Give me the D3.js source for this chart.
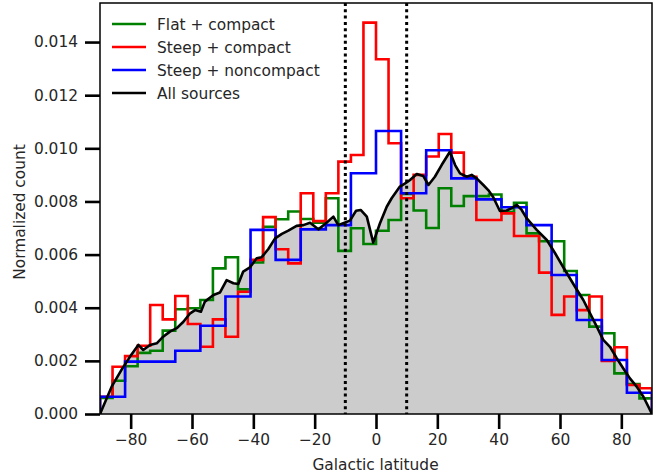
<!DOCTYPE html>
<html>
<head>
<meta charset="utf-8">
<script src="https://cdn.jsdelivr.net/npm/d3@7/dist/d3.min.js"></script>
<style>
  html, body { margin: 0; padding: 0; background: #fff; }
  svg { display: block; }
  text { font-family: "DejaVu Sans", sans-serif; fill: #262626; }
</style>
</head>
<body>
<svg id="chart" width="661" height="476"></svg>
<script>
// ---- Data ----
const latRange = [-90, 90];
const nBinsFine = 44;   // Flat + compact, Steep + compact
const nBinsWide = 22;   // Steep + noncompact

const flatCompact = [
  0.0006, 0.00125, 0.0018, 0.0023, 0.00238, 0.00314, 0.00394, 0.00398, 0.00429, 0.00548,
  0.0059, 0.00469, 0.0057, 0.00705, 0.00733, 0.00762, 0.00734, 0.0072, 0.00812, 0.00614,
  0.00699, 0.0064, 0.0069, 0.0073, 0.00828, 0.00766, 0.0070, 0.0085, 0.00783, 0.0082,
  0.0082, 0.00826, 0.0076, 0.00795, 0.0068, 0.0065, 0.0065, 0.00538, 0.00448, 0.00329,
  0.00304, 0.00153, 0.00113, 0.00059
];

const steepCompact = [
  0.00065, 0.00178, 0.00218, 0.00257, 0.0041, 0.00356, 0.00444, 0.00339, 0.00253, 0.00356,
  0.00291, 0.0046, 0.0058, 0.00741, 0.0062, 0.00567, 0.00831, 0.00726, 0.00831, 0.0095,
  0.00975, 0.01473, 0.01335, 0.01019, 0.00812, 0.009, 0.00969, 0.01054, 0.00984, 0.00893,
  0.0073, 0.0073, 0.00755, 0.0067, 0.0067, 0.00532, 0.00373, 0.00442, 0.00391, 0.00442,
  0.0020, 0.00251, 0.00109, 0.00097
];

const steepNoncompact = [
  0.00065, 0.00197, 0.00197, 0.00238, 0.00332, 0.00442, 0.00693, 0.0058, 0.00695, 0.00711,
  0.00906, 0.01065, 0.00831, 0.00993, 0.00887, 0.00808, 0.00778, 0.00711, 0.00523, 0.00354,
  0.00203, 0.0008
];

const allLat = [
  -90, -86.2, -82.9, -80.2, -77.5, -75.9, -73.7, -71.5, -69.4, -67.2, -65.0, -62.8, -60.6, -59.0,
  -57.1, -55.8, -53.0, -50.9, -48.7, -46.5, -44.9, -43.3, -41.1, -38.9, -37.3, -35.1, -32.9,
  -30.7, -28.6, -25.9, -23.7, -21.5, -18.8, -16.6, -13.9, -12.3, -10.7, -8.5, -6.5, -5.0, -3.0,
  -0.9, 1.3, 3.5, 5.1, 7.8, 9.5, 11.1, 13.3, 15.4, 17.1, 19.2, 21.4, 24.1, 25.8, 27.4, 29.6,
  31.2, 32.8, 35.0, 36.6, 38.2, 40.4, 42.6, 44.2, 45.9, 47.5, 49.1, 52.4, 55.7, 58.4, 61.6,
  64.9, 67.6, 69.8, 72.0, 74.1, 76.3, 78.5, 80.6, 82.8, 85.0, 87.2, 90
];
const allValues = [
  0, 0.00103, 0.00168, 0.00216, 0.0026, 0.00241, 0.0026, 0.00266, 0.00291, 0.0031, 0.00323,
  0.00347, 0.00379, 0.00391, 0.00385, 0.00423, 0.00448, 0.00457, 0.00504, 0.00492, 0.00489,
  0.00536, 0.00552, 0.00586, 0.0059, 0.00621, 0.00661, 0.00678, 0.0069, 0.00708, 0.00711,
  0.0072, 0.00695, 0.00715, 0.00743, 0.00711, 0.00718, 0.00728, 0.00765, 0.00768, 0.00743,
  0.00645, 0.00718, 0.0078, 0.00812, 0.00856, 0.00868, 0.00881, 0.00903, 0.00896, 0.00862,
  0.00893, 0.00937, 0.00987, 0.00937, 0.00906, 0.00893, 0.009, 0.00887, 0.00862, 0.00843,
  0.00817, 0.00764, 0.00766, 0.00774, 0.00787, 0.00768, 0.00737, 0.00693, 0.00655, 0.00605,
  0.00542, 0.00479, 0.00429, 0.00379, 0.00329, 0.00279, 0.00253, 0.0021, 0.00172, 0.00134,
  0.00103, 0.00065, 0
];

const xTicks = [-80, -60, -40, -20, 0, 20, 40, 60, 80];
const yTicks = [0, 0.002, 0.004, 0.006, 0.008, 0.010, 0.012, 0.014];
const yMax = 0.01547;
const cutLines = [-10, 10];

const seriesNames = ["Flat + compact", "Steep + compact", "Steep + noncompact", "All sources"];
const seriesColors = ["#008000", "#ff0000", "#0000ff", "#000000"];

// ---- Layout ----
const plot = { left: 100, right: 652, top: 3, bottom: 414 };
const FS = 15.4;

const svg = d3.select("#chart");
const x = d3.scaleLinear().domain(latRange).range([plot.left, plot.right]);
const y = d3.scaleLinear().domain([0, yMax]).range([plot.bottom, plot.top]);

svg.append("defs").append("clipPath").attr("id", "clip")
  .append("rect")
  .attr("x", plot.left).attr("y", plot.top)
  .attr("width", plot.right - plot.left).attr("height", plot.bottom - plot.top);

const g = svg.append("g").attr("clip-path", "url(#clip)");

// step outline like matplotlib histtype='step'
function stepPoints(values) {
  const n = values.length;
  const w = (latRange[1] - latRange[0]) / n;
  const pts = [[latRange[0], 0]];
  values.forEach((v, i) => {
    pts.push([latRange[0] + i * w, v]);
    pts.push([latRange[0] + (i + 1) * w, v]);
  });
  pts.push([latRange[1], 0]);
  return pts;
}

const line = d3.line().x(d => x(d[0])).y(d => y(d[1]));

// gray fill under all sources
const allPts = allLat.map((l, i) => [l, allValues[i]]);
g.append("path")
  .datum(allPts)
  .attr("d", d3.area().x(d => x(d[0])).y0(y(0)).y1(d => y(d[1])))
  .attr("fill", "#cccccc");

const hists = [flatCompact, steepCompact, steepNoncompact];
hists.forEach((vals, i) => {
  g.append("path")
    .datum(stepPoints(vals))
    .attr("d", line)
    .attr("fill", "none")
    .attr("stroke", seriesColors[i])
    .attr("stroke-width", 2.6)
    .attr("stroke-linejoin", "miter");
});

g.append("path")
  .datum(allPts)
  .attr("d", line)
  .attr("fill", "none")
  .attr("stroke", seriesColors[3])
  .attr("stroke-width", 2.6)
  .attr("stroke-linejoin", "round");

// dotted vertical lines
cutLines.forEach(v => {
  g.append("line")
    .attr("x1", x(v)).attr("x2", x(v))
    .attr("y1", plot.top).attr("y2", plot.bottom)
    .attr("stroke", "#000").attr("stroke-width", 3)
    .attr("stroke-dasharray", "3,3.3");
});

// frame
svg.append("rect")
  .attr("x", plot.left).attr("y", plot.top)
  .attr("width", plot.right - plot.left).attr("height", plot.bottom - plot.top)
  .attr("fill", "none").attr("stroke", "#000").attr("stroke-width", 1.5);

// x axis
const xAxis = d3.axisBottom(x).tickValues(xTicks).tickSize(15).tickPadding(5)
  .tickFormat(d => (d < 0 ? "\u2212" + Math.abs(d) : String(d)));
const xa = svg.append("g").attr("transform", `translate(0,${plot.bottom})`).call(xAxis);
xa.select(".domain").remove();
xa.selectAll(".tick line").attr("stroke", "#000").attr("stroke-width", 2.6);
xa.selectAll(".tick text").attr("font-size", FS).attr("fill", "#262626")
  .attr("font-family", "DejaVu Sans, sans-serif");

// y axis
const yAxis = d3.axisLeft(y).tickValues(yTicks).tickSize(15).tickPadding(7)
  .tickFormat(d => d.toFixed(3));
const ya = svg.append("g").attr("transform", `translate(${plot.left},0)`).call(yAxis);
ya.select(".domain").remove();
ya.selectAll(".tick line").attr("stroke", "#000").attr("stroke-width", 2.6);
ya.selectAll(".tick text").attr("font-size", FS).attr("fill", "#262626")
  .attr("font-family", "DejaVu Sans, sans-serif");

// axis labels
svg.append("text")
  .attr("x", (plot.left + plot.right) / 2 - 0.5).attr("y", 470)
  .attr("text-anchor", "middle").attr("font-size", FS)
  .text("Galactic latitude");

svg.append("text")
  .attr("transform", `translate(25,212) rotate(-90)`)
  .attr("text-anchor", "middle").attr("font-size", FS)
  .text("Normalized count");

// legend
const legRowY = [24, 47, 70, 93];
const legend = svg.append("g");
seriesNames.forEach((name, i) => {
  legend.append("line")
    .attr("x1", 112).attr("x2", 146)
    .attr("y1", legRowY[i]).attr("y2", legRowY[i])
    .attr("stroke", seriesColors[i]).attr("stroke-width", 2.6);
  legend.append("text")
    .attr("x", 157).attr("y", legRowY[i]).attr("dy", "0.36em")
    .attr("font-size", FS)
    .text(name);
});
</script>
</body>
</html>
